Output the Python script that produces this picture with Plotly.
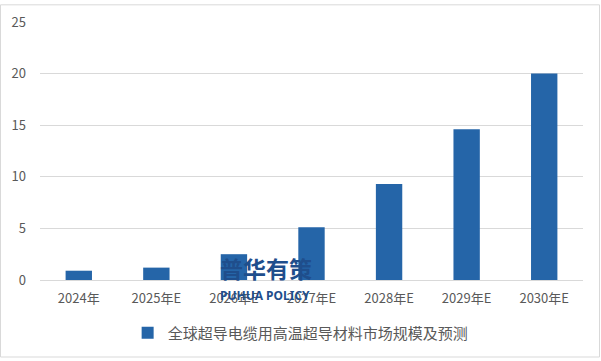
import plotly.graph_objects as go

categories = ["2024年", "2025年E", "2026年E", "2027年E", "2028年E", "2029年E", "2030年E"]
values = [0.9, 1.2, 2.5, 5.1, 9.3, 14.6, 20.0]
series_name = "全球超导电缆用高温超导材料市场规模及预测"
y_ticks = [0, 5, 10, 15, 20, 25]

W, H = 601, 361
ml, mr, mt, mb = 40, 18, 18, 80
pw, ph = W - ml - mr, H - mt - mb

font = "Noto Sans CJK SC, Noto Sans, sans-serif"


def px(xp):
    return (xp - ml) / pw


def py(yp):
    return (H - mb - yp) / ph


fig = go.Figure()
fig.add_trace(go.Bar(
    x=categories, y=values, name=series_name,
    marker=dict(color="#2565a8", line=dict(width=0)),
    showlegend=True,
))

fig.update_layout(
    width=W, height=H,
    margin=dict(l=ml, r=mr, t=mt, b=mb),
    paper_bgcolor="white", plot_bgcolor="white",
    bargap=0.66,
    font=dict(family=font, size=13, color="#595959"),
    xaxis=dict(showgrid=False, showline=True, linecolor="#d9d9d9", linewidth=1,
               ticks="", tickfont=dict(size=13, color="#595959"), ticklabelstandoff=6),
    yaxis=dict(range=[0, 25], tickvals=y_ticks, showgrid=True, gridcolor="#d9d9d9",
               gridwidth=1, zeroline=False, showline=False, ticks="",
               ticklabelstandoff=13, tickfont=dict(size=13, color="#595959")),
    legend=dict(orientation="h", x=0.48, xanchor="center", y=py(335), yanchor="middle",
                font=dict(size=15, color="#595959"), itemwidth=30),
)

# chart border
fig.add_shape(type="rect", xref="paper", yref="paper",
              x0=px(0.5), x1=px(599.5), y0=py(359.5), y1=py(0.5),
              line=dict(color="#d9d9d9", width=1), layer="below")

# watermark
fig.add_annotation(text="<b>普华有策</b>", xref="paper", yref="paper",
                   x=px(266), y=py(269), xanchor="center", yanchor="middle", showarrow=False,
                   font=dict(size=23, color="#1f4e8c", family=font))
fig.add_annotation(text="<b>PUHUA POLICY</b>", xref="paper", yref="paper",
                   x=px(265), y=py(297), xanchor="center", yanchor="middle", showarrow=False,
                   font=dict(size=12, color="#1f4e8c", family="Noto Sans, sans-serif"))

fig.write_html("out.html", config={"displayModeBar": False},
               post_script="document.body.style.margin='0';")
